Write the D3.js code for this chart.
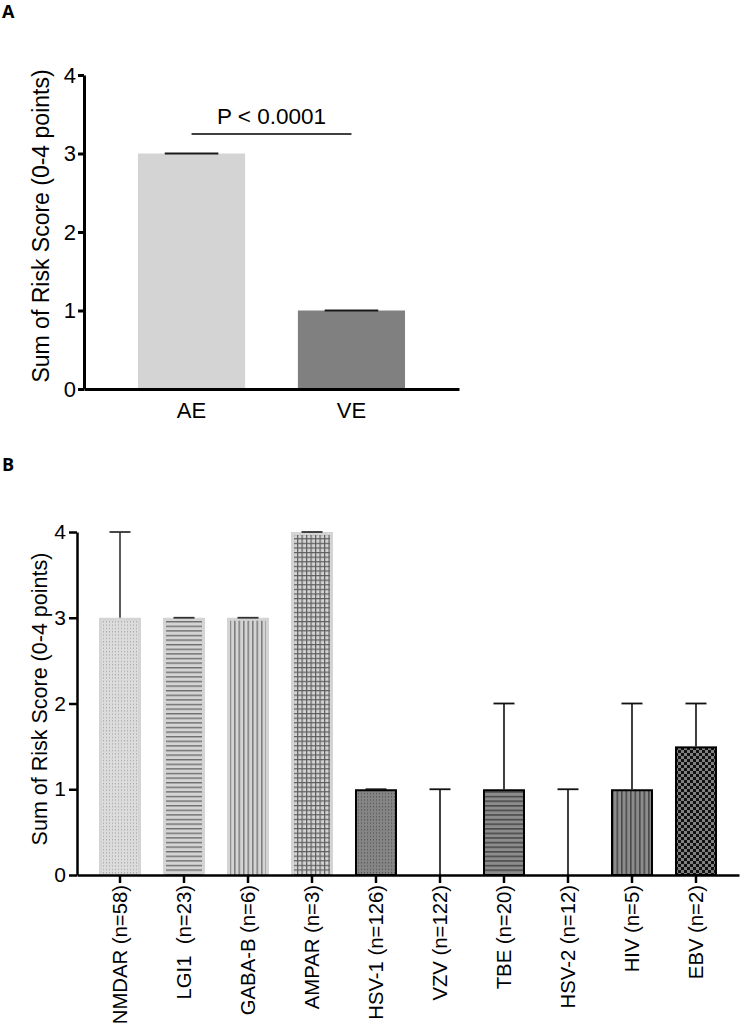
<!DOCTYPE html>
<html><head><meta charset="utf-8">
<script src="https://cdn.jsdelivr.net/npm/d3@7"></script>
<style>body{margin:0;background:#fff} svg text{font-family:"Liberation Sans",Arial,sans-serif}</style>
</head><body><svg id="c" width="741" height="1028"></svg>
<script>
// ---------- data ----------
const aCategories = ["AE", "VE"];
const aValues = [3, 1];
const aUpper = [3, 1];
const aTicks = [0, 1, 2, 3, 4];
const pLabel = "P < 0.0001";
const bCategories = ["NMDAR (n=58)", "LGI1  (n=23)", "GABA-B (n=6)", "AMPAR (n=3)", "HSV-1 (n=126)",
                     "VZV (n=122)", "TBE (n=20)", "HSV-2 (n=12)", "HIV (n=5)", "EBV (n=2)"];
const bValues = [3, 3, 3, 4, 1, 0, 1, 0, 1, 1.5];
const bUpper = [4, 3, 3, 4, 1, 1, 2, 1, 2, 2];
const bTicks = [0, 1, 2, 3, 4];
const yTitle = "Sum of Risk Score (0-4 points)";

// ---------- styles ----------
const LIGHT = "#d4d4d4", DARK = "#808080";
const bStyles = [
  {p: "dotsL", light: true}, {p: "hL", light: true}, {p: "vL", light: true}, {p: "gridL", light: true},
  {p: "dotsD"}, {p: "dotsD"}, {p: "hD"}, {p: "hD"}, {p: "vD"}, {p: "chk"}
];

const svg = d3.select("#c");
const defs = svg.append("defs");
function pat(id, w, h, bg, draw) {
  const p = defs.append("pattern").attr("id", id).attr("patternUnits", "userSpaceOnUse")
    .attr("width", w).attr("height", h);
  p.append("rect").attr("width", w).attr("height", h).attr("fill", bg);
  draw(p);
}
pat("dotsL", 3, 3.3, "#dcdcdc", p => p.append("rect").attr("x", 1).attr("y", 1).attr("width", 1).attr("height", 1).attr("fill", "#9a9a9a"));
pat("dotsD", 3, 3.3, "#858585", p => p.append("rect").attr("x", 1).attr("y", 1).attr("width", 1).attr("height", 1).attr("fill", "#4a4a4a"));
pat("hL", 4, 4.6, LIGHT, p => p.append("rect").attr("width", 4).attr("height", 1.4).attr("fill", "#6e6e6e"));
pat("vL", 4.5, 4, LIGHT, p => p.append("rect").attr("width", 1.5).attr("height", 4).attr("fill", "#7a7a7a"));
pat("gridL", 4.5, 4.6, LIGHT, p => {
  p.append("rect").attr("width", 4.5).attr("height", 1.2).attr("fill", "#5e5e5e");
  p.append("rect").attr("width", 1.2).attr("height", 4.6).attr("fill", "#5e5e5e");
});
pat("hD", 4, 4.6, "#8c8c8c", p => p.append("rect").attr("width", 4).attr("height", 1.6).attr("fill", "#4a4a4a"));
pat("vD", 4.5, 4, "#8c8c8c", p => p.append("rect").attr("width", 1.6).attr("height", 4).attr("fill", "#4a4a4a"));
pat("chk", 6, 6, "#808080", p => {
  p.append("rect").attr("width", 3).attr("height", 3).attr("fill", "#111");
  p.append("rect").attr("x", 3).attr("y", 3).attr("width", 3).attr("height", 3).attr("fill", "#111");
});

function styleAxis(g, w) {
  g.select(".domain").attr("stroke", "#000").attr("stroke-width", w);
  g.selectAll(".tick line").attr("stroke", "#000").attr("stroke-width", w);
}

// ---------- panel labels ----------
svg.append("text").attr("x", 2).attr("y", 18).text("A")
  .style("font-family", "'Open Sans',sans-serif").style("font-weight", "bold").style("font-size", "18px");
svg.append("text").attr("x", 2).attr("y", 471).text("B")
  .style("font-family", "'Open Sans',sans-serif").style("font-weight", "bold").style("font-size", "18px");

// ---------- panel A ----------
const yA = d3.scaleLinear().domain([0, 4]).range([389, 75]);
const xA = d3.scaleBand().domain(aCategories).range([84, 459]).paddingInner(0.33).paddingOuter(0.3375);
const gA = svg.append("g");
gA.selectAll("rect.bar").data(aCategories).join("rect")
  .attr("x", d => xA(d)).attr("width", xA.bandwidth())
  .attr("y", (d, i) => yA(aValues[i])).attr("height", (d, i) => yA(0) - yA(aValues[i]))
  .attr("fill", (d, i) => i === 0 ? LIGHT : DARK);
gA.selectAll("line.cap").data(aCategories).join("line")
  .attr("x1", d => xA(d) + xA.bandwidth() / 4).attr("x2", d => xA(d) + xA.bandwidth() * 3 / 4)
  .attr("y1", (d, i) => yA(aUpper[i])).attr("y2", (d, i) => yA(aUpper[i]))
  .attr("stroke", "#1a1a1a").attr("stroke-width", 2);
const axAy = gA.append("g").attr("transform", "translate(84,0)")
  .call(d3.axisLeft(yA).tickValues(aTicks).tickFormat(d3.format("d")).tickSize(6).tickPadding(2).tickSizeOuter(0));
styleAxis(axAy, 3);
axAy.selectAll("text").style("font-size", "22px").attr("fill", "#000");
const axAx = gA.append("g").attr("transform", "translate(0,389)")
  .call(d3.axisBottom(xA).tickSize(0).tickPadding(13).tickSizeOuter(0));
styleAxis(axAx, 3);
axAx.selectAll("text").style("font-size", "22px").attr("fill", "#000");
gA.append("text").attr("transform", "translate(49,226) rotate(-90)").attr("text-anchor", "middle")
  .style("font-size", "23px").text(yTitle);
// significance bar
const cA0 = xA(aCategories[0]) + xA.bandwidth() / 2, cA1 = xA(aCategories[1]) + xA.bandwidth() / 2;
gA.append("line").attr("x1", cA0).attr("x2", cA1).attr("y1", 134).attr("y2", 134)
  .attr("stroke", "#000").attr("stroke-width", 1.5);
gA.append("text").attr("x", (cA0 + cA1) / 2).attr("y", 124).attr("text-anchor", "middle")
  .style("font-size", "22.5px").text(pLabel);

// ---------- panel B ----------
const yB = d3.scaleLinear().domain([0, 4]).range([875, 532]);
const xB = d3.scaleBand().domain(bCategories).range([77, 739]).padding(0.344);
const gB = svg.append("g");
const bw = xB.bandwidth();
bCategories.forEach((c, i) => {
  const v = bValues[i];
  if (v <= 0) return;
  const s = bStyles[i];
  const x = xB(c), y = yB(v), h = yB(0) - yB(v);
  if (s.light) {
    gB.append("rect").attr("x", x).attr("y", y).attr("width", bw).attr("height", h).attr("fill", LIGHT);
    gB.append("rect").attr("x", x + 3).attr("y", y + 3).attr("width", bw - 6).attr("height", h - 3)
      .attr("fill", `url(#${s.p})`);
  } else {
    gB.append("rect").attr("x", x + 1).attr("y", y + 1).attr("width", bw - 2).attr("height", h - 1)
      .attr("fill", `url(#${s.p})`).attr("stroke", "#000").attr("stroke-width", 2);
  }
});
// error bars
bCategories.forEach((c, i) => {
  const cx = xB(c) + bw / 2;
  const col = bStyles[i].light ? "#333" : "#111";
  if (bUpper[i] > bValues[i]) {
    gB.append("line").attr("x1", cx).attr("x2", cx).attr("y1", yB(bValues[i])).attr("y2", yB(bUpper[i]))
      .attr("stroke", col).attr("stroke-width", 1.6);
  }
  gB.append("line").attr("x1", cx - bw / 4).attr("x2", cx + bw / 4).attr("y1", yB(bUpper[i])).attr("y2", yB(bUpper[i]))
    .attr("stroke", col).attr("stroke-width", 1.8);
});
const axBy = gB.append("g").attr("transform", "translate(77,0)")
  .call(d3.axisLeft(yB).tickValues(bTicks).tickFormat(d3.format("d")).tickSize(8).tickPadding(3).tickSizeOuter(0));
styleAxis(axBy, 2.5);
axBy.selectAll("text").style("font-size", "21px").attr("fill", "#000");
const axBx = gB.append("g").attr("transform", "translate(0,875)")
  .call(d3.axisBottom(xB).tickSize(8).tickSizeOuter(0));
styleAxis(axBx, 2.5);
axBx.selectAll("text").attr("transform", "rotate(-90)").attr("x", -10).attr("y", 0).attr("dy", "0.36em")
  .style("text-anchor", "end").style("font-size", "20.3px").style("white-space", "pre").attr("fill", "#000");
gB.append("text").attr("transform", "translate(47,699) rotate(-90)").attr("text-anchor", "middle")
  .style("font-size", "21.5px").text(yTitle);
</script></body></html>
